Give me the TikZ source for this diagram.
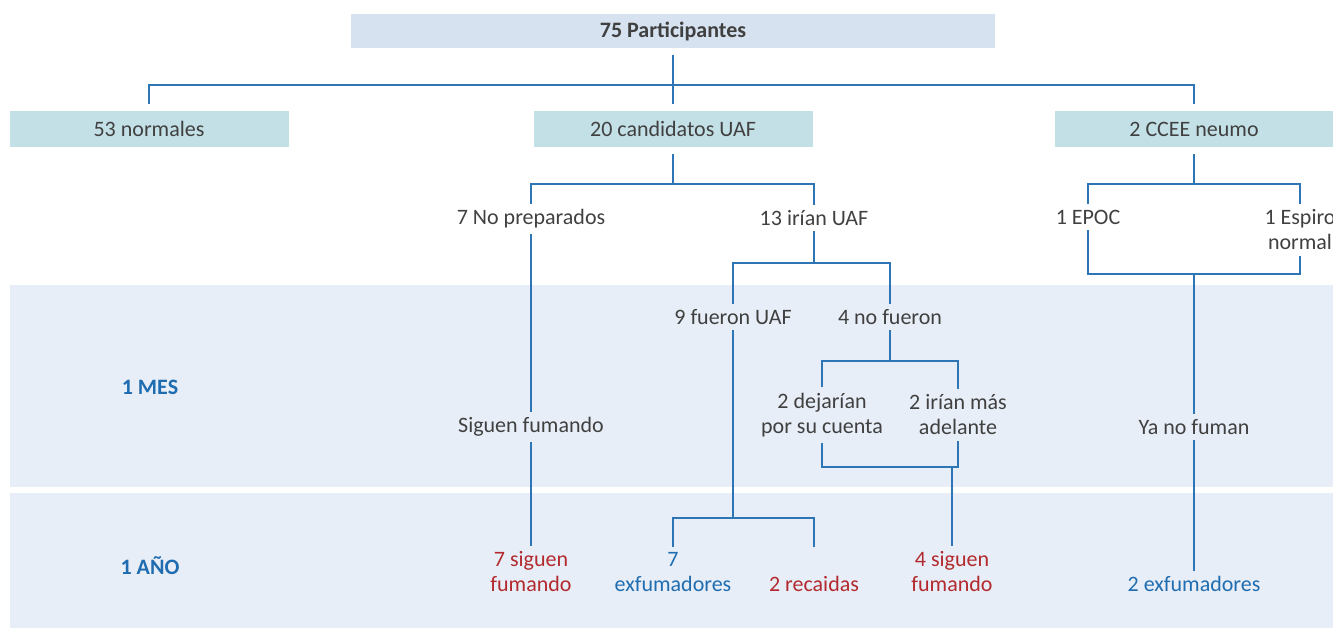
\documentclass[tikz,border=0pt]{standalone}
\usepackage{fontspec}
\setmainfont{Carlito}
\definecolor{headfill}{HTML}{D6E2F0}
\definecolor{groupfill}{HTML}{C4E0E7}
\definecolor{bandfill}{HTML}{E8EEF7}
\definecolor{linkblue}{HTML}{2E75B6}
\definecolor{textgray}{HTML}{404040}
\definecolor{stillred}{HTML}{B22A2E}
\definecolor{exblue}{HTML}{1F6DB0}
\begin{document}
\begin{tikzpicture}[x=0.75pt,y=-0.75pt,every node/.style={font=\fontsize{16.5}{18.75}\selectfont,text=textgray,align=center},conn/.style={draw=linkblue,line width=1.3pt},head box/.style={fill=headfill,minimum width=483pt,minimum height=25.5pt,outer ysep=5.25pt,font=\fontsize{16.5}{18.75}\selectfont\bfseries},group box/.style={fill=groupfill,minimum width=209.25pt,minimum height=27pt,outer ysep=5.25pt},step label/.style={inner xsep=2pt,inner ysep=4pt},still label/.style={step label,text=stillred},ex label/.style={step label,text=exblue},time label/.style={text=exblue,font=\fontsize{16.5}{18.75}\selectfont\bfseries}]

				\useasboundingbox (0,0) rectangle (1333,628);
				\fill[bandfill] (10,285) rectangle (1333,487);
				\fill[bandfill] (10,493) rectangle (1333,628);

				\node[head box] (P) at (673,31) {75 Participantes};
				\node[group box] (N) at (149,129) {53 normales};
				\node[group box] (C) at (673,129) {20 candidatos UAF};
				\node[group box] (E) at (1194,129) {2 CCEE neumo};

				\node[time label] (M) at (150,387) {1 MES};
				\node[time label] (Y) at (150,566) {1 AÑO};

				\node[step label] (NP) at (531,219) {7 No preparados};
				\node[step label] (IR) at (814,218) {13 irían UAF};
				\node[step label] (EP) at (1088,217) {1 EPOC};
				\node[step label] (ES) at (1300,230) {1 Espiro\\normal};
				\node[step label] (FU) at (733,317) {9 fueron UAF};
				\node[step label] (NF) at (890,317) {4 no fueron};
				\node[step label] (DJ) at (822,415) {2 dejarían\\por su cuenta};
				\node[step label] (AD) at (958,415) {2 irían más\\adelante};
				\node[step label] (SF) at (531,427) {Siguen fumando};
				\node[step label] (YN) at (1194,427) {Ya no fuman};

				\node[still label] (SG7) at (531,572) {7 siguen\\fumando};
				\node[ex label] (EX7) at (673,572) {7\\exfumadores};
				\node[still label] (RC) at (814,584) {2 recaidas};
				\node[still label] (SG4) at (952,572) {4 siguen\\fumando};
				\node[ex label] (EX2) at (1194,584) {2 exfumadores};

				\coordinate (P1) at (673,85);
				\coordinate (C1) at (673,184);
				\coordinate (E1) at (1194,184);
				\coordinate (E2) at (1194,274);
				\coordinate (I1) at (814,263);
				\coordinate (F1) at (733,518);
				\coordinate (N1) at (890,361);
				\coordinate (D1) at (952,467);

				\draw[conn] (P.south) -- (C.north);
				\draw[conn] (N.north) |- (P1) -| (E.north);

				\draw[conn] (C.south) -- (C1);
				\draw[conn] (NP.north) |- (C1) -| (IR.north);
				\draw[conn] (NP.south) -- (SF.north);
				\draw[conn] (SF.south) -- (SG7.north);

				\draw[conn] (IR.south) -- (I1);
				\draw[conn] (FU.north) |- (I1) -| (NF.north);
				\draw[conn] (FU.south) -- (F1);
				\draw[conn] (EX7.north) |- (F1) -| (RC.north |- EX7.north);
				\draw[conn] (NF.south) -- (N1);
				\draw[conn] (DJ.north) |- (N1) -| (AD.north);
				\draw[conn] (DJ.south) |- (D1) -| (AD.south);
				\draw[conn] (D1) -- (SG4.north);

				\draw[conn] (E.south) -- (E1);
				\draw[conn] (EP.north) |- (E1) -| (ES.north);
				\draw[conn] (EP.south) |- (E2) -| (ES.south);
				\draw[conn] (E2) -- (YN.north);
				\draw[conn] (YN.south) -- (EX2.north);

				\end{tikzpicture}
\end{document}
